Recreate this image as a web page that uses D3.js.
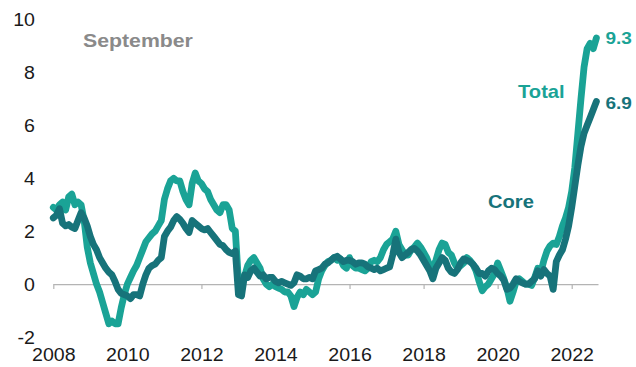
<!DOCTYPE html>
<html>
<head>
<meta charset="utf-8">
<script src="https://cdn.jsdelivr.net/npm/d3@7"></script>
<style>
  html, body { margin: 0; padding: 0; background: #ffffff; }
  svg { display: block; }
  text { font-family: "Liberation Sans", Arial, Helvetica, sans-serif; }
</style>
</head>
<body>
<svg id="chart" width="636" height="367"></svg>
<script>
// Monthly year-on-year inflation, per cent, January 2008 to September 2022
const firstYear = 2008;

const total = [
  2.9, 2.8, 3.0, 3.1, 2.8, 3.3, 3.4, 3.0, 3.1, 3.0, 2.4, 1.4,        // 2008
  0.8, 0.4, 0.0, -0.3, -0.7, -1.1, -1.5, -1.4, -1.5, -1.5, -0.9, -0.4, // 2009
  0.0, 0.25, 0.5, 0.7, 1.0, 1.3, 1.6, 1.75, 1.9, 2.0, 2.2, 2.4,      // 2010
  3.2, 3.6, 3.9, 4.0, 3.9, 3.9, 3.5, 3.2, 3.0, 3.8, 4.2, 3.9,        // 2011
  3.8, 3.6, 3.5, 3.2, 3.0, 2.8, 2.7, 3.0, 3.0, 2.8, 2.1, 2.0,        // 2012
  0.1, 0.0, 0.3, 0.7, 0.9, 1.0, 0.8, 0.6, 0.2, 0.0, -0.1, 0.0,       // 2013
  -0.1, -0.15, -0.2, -0.3, -0.3, -0.45, -0.85, -0.5, -0.3, -0.4, -0.2, -0.3, // 2014
  -0.4, -0.3, 0.2, 0.5, 0.7, 0.85, 0.9, 1.0, 0.9, 0.95, 0.7, 0.6,    // 2015
  1.0, 0.7, 0.6, 0.6, 0.55, 0.5, 0.6, 0.85, 0.9, 0.85, 1.0, 1.3,     // 2016
  1.5, 1.6, 1.7, 2.0, 1.5, 1.3, 1.1, 1.1, 1.3, 1.4, 1.55, 1.4,       // 2017
  1.2, 1.0, 0.7, 0.6, 0.9, 1.3, 1.55, 1.5, 1.2, 1.1, 0.8, 0.6,       // 2018
  0.7, 0.8, 1.0, 0.9, 0.75, 0.5, 0.1, -0.25, -0.1, 0.0, 0.2, 0.4,    // 2019
  0.8, 0.5, 0.2, -0.15, -0.65, -0.3, 0.1, 0.2, 0.1, 0.0, 0.0, -0.05, // 2020
  0.25, 0.6, 0.45, 0.9, 1.25, 1.45, 1.55, 1.5, 1.8, 2.2, 2.5, 2.9,   // 2021
  3.5, 4.4, 5.7, 7.0, 8.2, 8.9, 9.1, 8.9, 9.3                        // 2022
];

const core = [
  2.5, 2.6, 2.85, 2.3, 2.2, 2.25, 2.15, 2.1, 2.4, 2.7, 2.5, 2.2,     // 2008
  1.8, 1.5, 1.3, 1.0, 0.8, 0.6, 0.45, 0.35, 0.1, -0.2, -0.35, -0.4,  // 2009
  -0.45, -0.55, -0.4, -0.4, -0.45, 0.0, 0.35, 0.6, 0.7, 0.75, 0.9, 1.0, // 2010
  1.8, 2.0, 2.15, 2.4, 2.55, 2.45, 2.3, 2.1, 1.95, 2.4, 2.3, 2.2,    // 2011
  2.1, 2.05, 2.1, 1.95, 1.8, 1.65, 1.5, 1.45, 1.3, 1.2, 1.15, 1.25,  // 2012
  -0.4, -0.45, 0.35, 0.25, 0.5, 0.6, 0.45, 0.3, 0.35, 0.2, 0.25, 0.25, // 2013
  0.1, 0.05, 0.1, 0.05, 0.0, -0.05, 0.05, 0.35, 0.3, 0.2, 0.2, 0.25, // 2014
  0.2, 0.5, 0.55, 0.6, 0.75, 0.8, 0.9, 1.0, 1.05, 0.95, 0.85, 0.9,   // 2015
  0.9, 0.85, 0.75, 0.8, 0.8, 0.75, 0.65, 0.6, 0.55, 0.6, 0.5, 0.55,  // 2016
  0.6, 0.65, 1.1, 1.7, 1.2, 1.0, 1.1, 1.2, 1.3, 1.35, 1.25, 1.1,     // 2017
  0.9, 0.7, 0.5, 0.2, 0.6, 0.8, 1.0, 0.9, 0.6, 0.45, 0.4, 0.55,      // 2018
  0.8, 0.95, 0.9, 0.85, 0.75, 0.6, 0.4, 0.4, 0.3, 0.5, 0.6, 0.55,    // 2019
  0.4, 0.3, 0.15, -0.2, -0.15, 0.0, 0.2, 0.1, 0.05, 0.0, 0.0, 0.1,   // 2020
  0.2, 0.5, 0.3, 0.55, 0.4, 0.3, -0.2, 0.85, 1.1, 1.3, 1.7, 2.2,     // 2021
  2.9, 3.7, 4.5, 5.2, 5.7, 6.0, 6.3, 6.6, 6.9                        // 2022
];

const xTicks = [2008, 2010, 2012, 2014, 2016, 2018, 2020, 2022];
const xTickLabels = ["2008", "2010", "2012", "2014", "2016", "2018", "2020", "2022"];
const yTicks = [-2, 0, 2, 4, 6, 8, 10];
const yTickLabels = ["-2", "0", "2", "4", "6", "8", "10"];

const seriesNames = ["Total", "Core"];
const monthLabel = "September";

const colors = { Total: "#1aa396", Core: "#17737a" };
const textScaleX = 1.12;

const svg = d3.select("#chart");

const x = d3.scaleLinear().domain([2008, 2022.71]).range([53.3, 598]);
const y = d3.scaleLinear().domain([-2, 10]).range([337, 19.5]);

const toPoints = arr => arr.map((v, i) => ({ t: firstYear + i / 12, v }));
const totalPts = toPoints(total);
const corePts = toPoints(core);

// Zero line with small downward ticks
const zeroAxis = d3.axisBottom(x)
  .tickValues(xTicks)
  .tickSize(5)
  .tickSizeOuter(0)
  .tickFormat("");
const zg = svg.append("g")
  .attr("transform", `translate(0,${y(0)})`)
  .call(zeroAxis);
zg.select(".domain").attr("stroke", "#b4b4b4").attr("stroke-width", 1.2);
zg.selectAll(".tick line").attr("stroke", "#b4b4b4").attr("stroke-width", 1.2);

// Year labels along the bottom
const labelAxis = d3.axisBottom(x)
  .tickValues(xTicks)
  .tickSize(0)
  .tickFormat((d, i) => xTickLabels[i]);
const lg = svg.append("g")
  .attr("transform", "translate(0,345)")
  .call(labelAxis);
lg.select(".domain").remove();
lg.selectAll("text")
  .attr("y", 0).attr("dy", "0.92em")
  .attr("fill", "#1a1a1a")
  .style("font-size", "17.5px")
  .attr("transform", `scale(${textScaleX},1)`);

// Value labels on the left
const yAxis = d3.axisLeft(y)
  .tickValues(yTicks)
  .tickSize(0)
  .tickFormat((d, i) => yTickLabels[i]);
const yg = svg.append("g")
  .attr("transform", "translate(35,0)")
  .call(yAxis);
yg.select(".domain").remove();
yg.selectAll("text")
  .attr("x", 0).attr("dy", "0.36em")
  .attr("fill", "#1a1a1a")
  .style("font-size", "17.5px")
  .attr("transform", `scale(${textScaleX},1)`);

// Lines: total first, core on top
const line = d3.line().x(d => x(d.t)).y(d => y(d.v));
[["Total", totalPts], ["Core", corePts]].forEach(([name, pts]) => {
  svg.append("path")
    .datum(pts)
    .attr("d", line)
    .attr("fill", "none")
    .attr("stroke", colors[name])
    .attr("stroke-width", 6.8)
    .attr("stroke-linejoin", "round")
    .attr("stroke-linecap", "round");
});

function addText(px, py, str, size, fill, weight) {
  svg.append("text")
    .attr("transform", `translate(${px},${py}) scale(${textScaleX},1)`)
    .attr("fill", fill)
    .style("font-size", size + "px")
    .style("font-weight", weight)
    .text(str);
}

// Title month
addText(83, 47, monthLabel, 19, "#8a8a8a", "bold");

// Series names
addText(518, 98, seriesNames[0], 18, colors.Total, "bold");
addText(488, 208, seriesNames[1], 18, colors.Core, "bold");

// Latest values next to the line ends
const lastT = totalPts[totalPts.length - 1];
const lastC = corePts[corePts.length - 1];
addText(x(lastT.t) + 9, y(lastT.v) + 6, d3.format(".1f")(lastT.v), 17, colors.Total, "bold");
addText(x(lastC.t) + 9, y(lastC.v) + 7, d3.format(".1f")(lastC.v), 17, colors.Core, "bold");
</script>
</body>
</html>
